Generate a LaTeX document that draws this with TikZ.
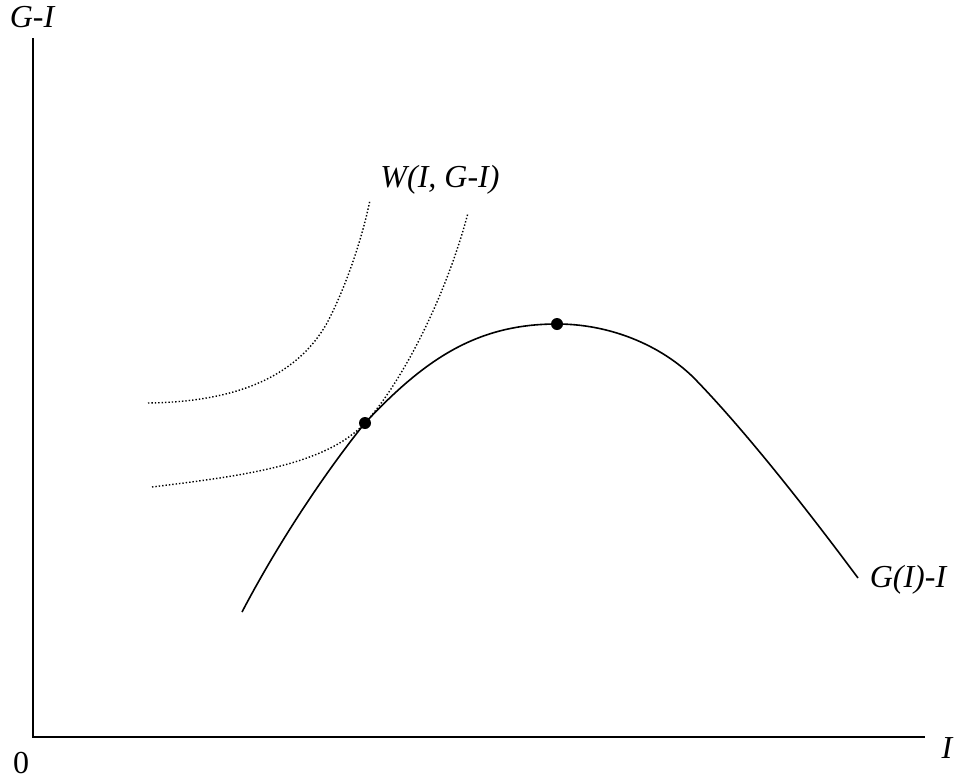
\documentclass[tikz,border=0pt]{standalone}
\usepackage{fontspec}
\setmainfont{Liberation Serif}
\usetikzlibrary{positioning}

\begin{document}
\begin{tikzpicture}[
    x=0.5pt, y=-0.5pt,
    axis/.style={line width=1pt},
    curve/.style={line width=0.8pt},
    indiff/.style={line width=0.7pt, densely dotted},
    dot/.style={circle, fill, inner sep=0pt, minimum size=6pt},
    lbl/.style={font=\fontsize{16}{18}\selectfont\itshape, inner sep=0pt},
    num/.style={font=\fontsize{16}{18}\selectfont, inner sep=0pt}
]
\useasboundingbox (0,0) rectangle (960,782);

% axes
\coordinate (top)    at (33,38);
\coordinate (origin) at (33,737);
\coordinate (right)  at (925,737);
\draw[axis] (top) -- (origin) -- (right);

\node[lbl] (ylab) at (32,17)  {G-I};
\node[num] (zero) at (21,763) {0};
\node[lbl] (xlab) at (947,748) {I};

% points
\coordinate (tang) at (365,423);
\coordinate (peak) at (557,324);

% G(I)-I
\coordinate (gstart) at (242,612);
\coordinate (gbend)  at (693,377);
\coordinate (gend)   at (858,578);
\draw[curve] (gstart) .. controls (285,530) and (335,460) .. (tang)
    .. controls (425,359) and (477,324) .. (peak)
    .. controls (610,324) and (660,345) .. (gbend)
    .. controls (740,425) and (800,500) .. (gend);
\node[lbl] (glab) at (908,580) {G(I)-I};

% indifference curves
\coordinate (wa) at (148,403);
\coordinate (wb) at (327,323);
\coordinate (wc) at (370,200);
\draw[indiff] (wa) .. controls (230,402) and (295,380) .. (wb)
    .. controls (347,285) and (363,235) .. (wc);
\coordinate (wd) at (152,487);
\coordinate (we) at (468,213);
\draw[indiff] (wd) .. controls (240,476) and (325,466) .. (tang)
    .. controls (400,385) and (445,300) .. (we);
\node[lbl] (wlab) at (440,180) {W(I, G-I)};

\node[dot] (tangdot) at (tang) {};
\node[dot] (peakdot) at (peak) {};
\end{tikzpicture}
\end{document}
